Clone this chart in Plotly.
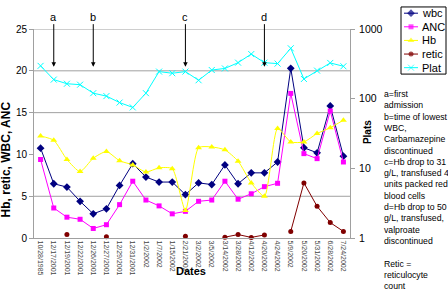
import plotly.graph_objects as go

dates = ["10/28/1985", "12/17/2001", "12/19/2001", "12/22/2001", "12/26/2001",
         "12/27/2001", "12/29/2001", "12/31/2001", "1/2/2002", "1/7/2002",
         "1/15/2002", "2/21/2002", "3/2/2002", "3/5/2002", "3/14/2002",
         "3/28/2002", "4/12/2002", "4/20/2002", "4/24/2002", "5/9/2002",
         "5/20/2002", "5/31/2002", "6/28/2002", "7/24/2002"]
wbc = [10.75, 6.5, 6.1, 4.4, 2.9, 3.5, 6.3, 8.9, 7.3, 6.7, 6.7, 5.2,
       6.6, 6.4, 8.75, 6.5, 7.8, 7.8, 9.1, 20.3, 10.8, 10.2, 15.8, 9.8]
anc = [9.4, 3.6, 2.5, 2.25, 1.15, 1.6, 4.0, 6.8, 4.55, 3.85, 2.9, 3.2,
       4.4, 4.55, 6.8, 4.65, 5.3, 6.15, 6.55, 17.3, 10.1, 9.5, 15.2, 9.1]
hb = [12.2, 11.7, 9.4, 7.95, 9.55, 10.35, 9.25, 8.75, 7.9, 8.4, 8.3, 3.3,
      10.8, 10.9, 10.55, 9.2, 6.6, 5.0, 13.1, 11.5, 11.5, 12.5, 13.2, 14.1]
retic = [None, None, 0.42, None, None, 0.15, None, None, None, None, None, 0.23,
         None, None, 0.11, 0.42, 0.08, 0.38, None, 0.8, 6.6, 3.8, 1.85, 0.8]
plat = [296, 188, 164, 159, 120, 109, 88, 75, 120, 245, 232, 245,
        184, 258, 272, 329, 437, 329, 319, 529, 192, 253, 326, 292]

event_labels = ["a", "b", "c", "d"]
event_dates = ["12/17/2001", "12/26/2001", "2/21/2002", "4/20/2002"]

note_lines = ["a=first", "admission", "b=time of lowest", "WBC,", "Carbamazepine",
              "discontinued", "c=Hb drop to 31", "g/L, transfused 4",
              "units packed red", "blood cells", "d=Hb drop to 50",
              "g/L, transfused,", "valproate", "discontinued", "",
              "Retic =", "reticulocyte", "count"]

W, H = 448, 293
PL, PR, PT, PB = 34, 350, 24, 242  # plot area pixels
FONT = "Liberation Sans, Arial, sans-serif"

series = [
    dict(name="wbc", y=wbc, color="#000080", symbol="diamond", size=6, axis="y", shape="linear"),
    dict(name="ANC", y=anc, color="#FF00FF", symbol="square", size=5, axis="y", shape="linear"),
    dict(name="Hb", y=hb, color="#FFFF00", symbol="triangle-up", size=6, axis="y", shape="spline"),
    dict(name="retic", y=retic, color="#800000", symbol="circle", size=5, axis="y", shape="linear"),
    dict(name="Plat", y=plat, color="#00FFFF", symbol="x-thin", size=6, axis="y2", shape="linear"),
]

fig = go.Figure()
for s in series:
    marker = dict(color=s["color"], symbol=s["symbol"], size=s["size"],
                  line=dict(color=s["color"], width=1 if s["symbol"] == "x-thin" else 0))
    fig.add_trace(go.Scatter(
        x=dates, y=s["y"], mode="lines+markers", name=s["name"], yaxis=s["axis"],
        line=dict(color=s["color"], width=1, shape=s["shape"], smoothing=0.6),
        marker=marker, connectgaps=False, showlegend=False, cliponaxis=False))

# manual legend (drawn on its own small axis)
leg_top, leg_step = 7.5, 14.2
for i, s in enumerate(series):
    yy = leg_top + i * leg_step
    marker = dict(color=s["color"], symbol=s["symbol"], size=[0, s["size"], 0],
                  line=dict(color=s["color"], width=1 if s["symbol"] == "x-thin" else 0))
    fig.add_trace(go.Scatter(x=[0, 0.5, 1], y=[yy, yy, yy], mode="lines+markers",
                             xaxis="x3", yaxis="y3", showlegend=False,
                             line=dict(color=s["color"], width=1),
                             marker=marker, hoverinfo="skip"))
    fig.add_annotation(x=420 / W, y=1 - yy / H, xref="paper", yref="paper",
                       text=s["name"], showarrow=False, xanchor="left", yanchor="middle",
                       font=dict(family=FONT, size=11, color="#000"))

fig.add_shape(type="rect", xref="paper", yref="paper", x0=401 / W, x1=446 / W,
              y0=1 - 71 / H, y1=1 - 1 / H, line=dict(color="#000", width=1))

# gridlines (as seen in the reference)
for gv in [5, 15, 20, 25]:
    fig.add_shape(type="line", xref="x domain", yref="y", x0=0, x1=1, y0=gv, y1=gv,
                  line=dict(color="#A0A0A0", width=1), layer="below")

# event arrows
for lab, d in zip(event_labels, event_dates):
    fig.add_annotation(x=d, y=20.5, xref="x", yref="y", text=lab, showarrow=True,
                       ax=0, ay=-50, arrowhead=2, arrowsize=0.9, arrowwidth=1,
                       arrowcolor="#000", standoff=0,
                       font=dict(family=FONT, size=11, color="#000"))

# note text
fig.add_annotation(x=382 / W, y=1 - 191.5 / H, xref="paper", yref="paper",
                   text="<br>".join(note_lines), showarrow=False, align="left",
                   xanchor="left", yanchor="middle",
                   font=dict(family=FONT, size=8.7, color="#000"))

# axis titles
fig.add_annotation(x=6 / W, y=1 - 160 / H, xref="paper", yref="paper",
                   text="<b>Hb, retic, WBC, ANC</b>", showarrow=False, textangle=-90,
                   xanchor="center", font=dict(family=FONT, size=12, color="#000"))
fig.add_annotation(x=191 / W, y=1 - 285 / H, xref="paper", yref="paper",
                   text="<b>Dates</b>", showarrow=False,
                   font=dict(family=FONT, size=11, color="#000"))
fig.add_annotation(x=375 / W, y=1 - 132 / H, xref="paper", yref="paper",
                   text="<b>Plats</b>", showarrow=False, textangle=-90,
                   font=dict(family=FONT, size=10, color="#000"))

fig.update_layout(
    width=W, height=H, autosize=False,
    margin=dict(l=0, r=0, t=0, b=0),
    paper_bgcolor="white", plot_bgcolor="white",
    font=dict(family=FONT, color="#000"),
    xaxis=dict(domain=[PL / W, PR / W], type="category", range=[-0.5, len(dates) - 0.5],
               tickangle=90, tickfont=dict(size=7, color="#444"), showgrid=False,
               showline=True, linecolor="#A0A0A0", linewidth=1, ticks="", zeroline=False,
               fixedrange=True),
    yaxis=dict(domain=[1 - PB / H, 1 - PT / H], range=[0, 25], tickvals=[0, 5, 10, 15, 20, 25],
               showgrid=False, showline=True, linecolor="#A0A0A0", linewidth=1,
               ticks="outside", ticklen=4, tickcolor="#A0A0A0",
               tickfont=dict(size=10, color="#000"), zeroline=False),
    yaxis2=dict(overlaying="y", side="right", type="log", range=[0, 3],
                tickvals=[1, 10, 100, 1000], ticktext=["1", "10", "100", "1000"],
                showgrid=False, showline=True, linecolor="#A0A0A0", linewidth=1,
                ticks="outside", ticklen=4, tickcolor="#A0A0A0", ticklabelstandoff=2,
                tickfont=dict(size=10.5, color="#000"), zeroline=False, anchor="x"),
    xaxis3=dict(domain=[404 / W, 418 / W], range=[0, 1], visible=False, fixedrange=True),
    yaxis3=dict(domain=[1 - 71 / H, 1], range=[71, 0], visible=False, anchor="x3",
                fixedrange=True),
)

fig.write_html("out.html", config={"displayModeBar": False, "staticPlot": True},
               post_script="document.body.style.margin='0';document.body.style.overflow='hidden';")
